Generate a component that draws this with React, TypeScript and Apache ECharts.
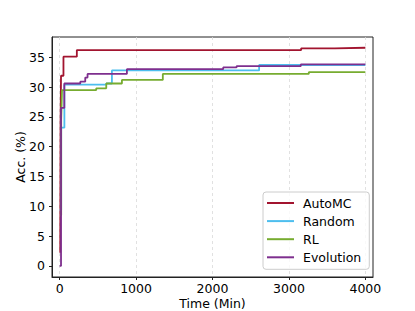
import React, { useEffect, useRef } from "react";
import * as echarts from "echarts";

const seriesNames = ["AutoMC", "Random", "RL", "Evolution"];
const autoX = [8, 12, 18, 50, 225, 3160, 3600, 4000];
const autoY = [2.2, 24.0, 31.9, 35.1, 36.2, 36.5, 36.6, 36.6];
const randX = [0, 20, 62, 610, 684, 2610, 4000];
const randY = [9.4, 23.2, 30.4, 30.6, 32.8, 33.7, 33.7];
const rlX = [5, 20, 25, 31, 479, 610, 815, 1350, 3260, 4000];
const rlY = [8.5, 24.5, 26.7, 29.5, 29.8, 30.6, 31.2, 32.2, 32.5, 32.5];
const evoX = [0, 18, 61, 270, 335, 365, 880, 2140, 2315, 3155, 4000];
const evoY = [0, 26.5, 30.6, 30.9, 31.6, 32.2, 33.0, 33.3, 33.5, 33.8, 33.8];
const xTicks = [0, 1000, 2000, 3000, 4000];
const yTicks = [0, 5, 10, 15, 20, 25, 30, 35];
const colors = ["#A2142F", "#4DBEEE", "#77AC30", "#7E2F8E"];

const FONT = "DejaVu Sans";

export default function App() {
  const ref = useRef<HTMLDivElement>(null);
  useEffect(() => {
    if (!ref.current) return;
    const chart = echarts.init(ref.current, undefined, { renderer: "svg" });
    const xs = [autoX, randX, rlX, evoX];
    const ys = [autoY, randY, rlY, evoY];
    chart.setOption({
      animation: false,
      grid: {
        left: 52,
        top: 37,
        width: 321,
        height: 240,
        show: true,
        borderColor: "#222",
        borderWidth: 1,
        backgroundColor: "transparent",
        outerBoundsMode: "none",
        containLabel: false,
      },
      legend: {
        orient: "vertical",
        left: 263,
        top: 192,
        width: 104,
        padding: [4, 8, 5, 4],
        icon: "rect",
        itemWidth: 27,
        itemHeight: 2,
        itemGap: 4.1,
        backgroundColor: "rgba(255,255,255,0.8)",
        borderColor: "#cccccc",
        borderWidth: 1,
        borderRadius: 3,
        textStyle: {
          fontFamily: FONT,
          fontSize: 12.5,
          lineHeight: 14,
          color: "#000",
          padding: [0, 0, 0, 4],
        },
        data: seriesNames,
      },
      xAxis: {
        type: "value",
        min: -100,
        max: 4100,
        splitNumber: 5,
        name: "Time (Min)",
        nameLocation: "middle",
        nameGap: 26,
        nameMoveOverlap: false,
        nameTextStyle: {
          fontFamily: FONT,
          fontSize: 12.5,
          lineHeight: 13,
          color: "#000",
          verticalAlign: "middle",
        },
        axisLine: { show: true, onZero: false, lineStyle: { color: "#222", width: 1 } },
        axisTick: { show: true, length: 3, customValues: xTicks, lineStyle: { color: "#222" } },
        axisLabel: {
          customValues: xTicks,
          margin: 5,
          fontFamily: FONT,
          fontSize: 12.5,
          lineHeight: 13,
          color: "#000",
          formatter: (v: number) => String(v),
        },
        splitLine: {
          show: true,
          lineStyle: { color: "#d9d9d9", type: [3, 3], width: 0.8 },
        },
      },
      yAxis: {
        type: "value",
        min: -1.85,
        max: 38.4,
        splitNumber: 8,
        name: "Acc. (%)",
        nameLocation: "middle",
        nameGap: 32,
        nameMoveOverlap: false,
        nameTextStyle: { fontFamily: FONT, fontSize: 12.5, color: "#000", verticalAlign: "middle" },
        axisLine: { show: true, onZero: false, lineStyle: { color: "#222", width: 1 } },
        axisTick: { show: true, length: 3, customValues: yTicks, lineStyle: { color: "#222" } },
        axisLabel: {
          customValues: yTicks,
          margin: 7,
          fontFamily: FONT,
          fontSize: 12.5,
          color: "#000",
          formatter: (v: number) => String(v),
        },
        splitLine: { show: false },
      },
      series: seriesNames.map((name, i) => ({
        name,
        type: "line",
        step: "end",
        symbol: "none",
        color: colors[i],
        lineStyle: { width: 1.8, color: colors[i] },
        data: xs[i].map((x, j) => [x, ys[i][j]]),
      })),
    });
    return () => chart.dispose();
  }, []);
  return (
    <div
      ref={ref}
      style={{ position: "fixed", left: 0, top: 0, width: 415, height: 311, background: "#fff" }}
    />
  );
}
